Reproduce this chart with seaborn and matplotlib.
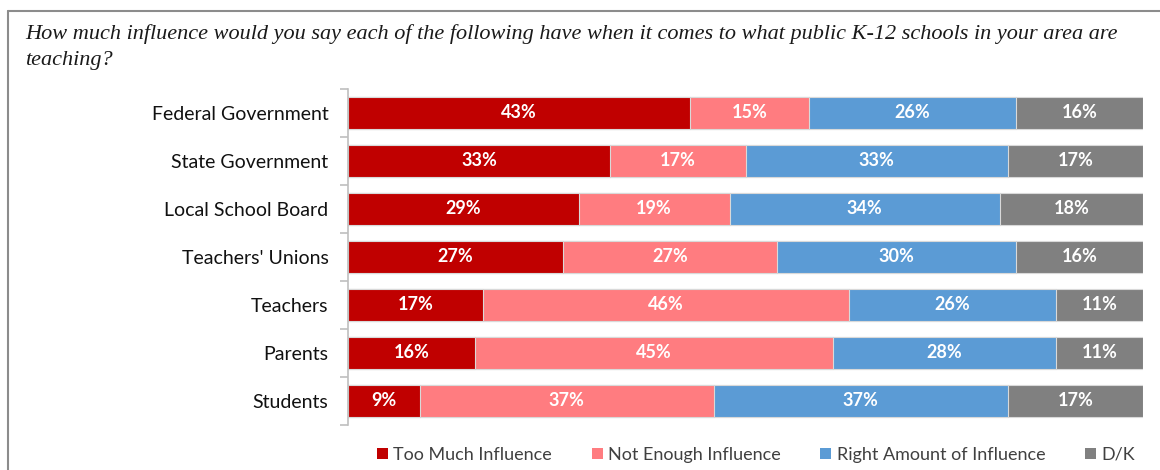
import numpy as np
import pandas as pd
import matplotlib
matplotlib.use("Agg")
import matplotlib.pyplot as plt
import seaborn as sns
from matplotlib.lines import Line2D
from matplotlib.patches import Patch

categories = ["Federal Government", "State Government", "Local School Board",
              "Teachers' Unions", "Teachers", "Parents", "Students"]
too_much = [43, 33, 29, 27, 17, 16, 9]
not_enough = [15, 17, 19, 27, 46, 45, 37]
right_amount = [26, 33, 34, 30, 26, 28, 37]
dont_know = [16, 17, 18, 16, 11, 11, 17]
series_names = ["Too Much Influence", "Not Enough Influence",
                "Right Amount of Influence", "D/K"]
colors = ["#C00000", "#FF7C80", "#5B9BD5", "#808080"]
title = ("How much influence would you say each of the following have when it comes to what public K-12 schools in your area are\n"
         "teaching?")

sns.set_theme(style="white")
plt.rcParams["font.family"] = ["Lato", "DejaVu Sans"]

series = [too_much, not_enough, right_amount, dont_know]
df = pd.DataFrame({"category": categories})
cum = np.zeros(len(categories))
starts = []
for name, vals in zip(series_names, series):
    starts.append(cum.copy())
    cum = cum + np.array(vals)
    df[name] = cum.copy()

fig = plt.figure(figsize=(11.6, 4.7), dpi=100)
ax = fig.add_axes([348/1160, 1-425/470, (1143-348)/1160, (425-89)/470])

for name, col in reversed(list(zip(series_names, colors))):
    sns.barplot(data=df, y="category", x=name, color=col, orient="h",
                width=0.66, ax=ax, edgecolor="#d9d9d9", linewidth=0.8,
                saturation=1)

for i, cat in enumerate(categories):
    for s, vals in enumerate(series):
        v = vals[i]
        xc = starts[s][i] + v / 2
        ax.text(xc, i, f"{v}%", ha="center", va="center", color="white",
                fontsize=13, fontweight="bold", family=["Lato", "DejaVu Sans"])

ax.set_xlim(0, 100)
ax.set_ylim(len(categories) - 0.5, -0.5)
ax.set_xlabel("")
ax.set_ylabel("")
ax.set_xticks([])
ax.set_yticks(np.arange(len(categories)))
ax.set_yticklabels(categories, fontsize=14, color="#111111")
ax.set_yticks(np.arange(-0.5, len(categories)), minor=True)
ax.tick_params(axis="y", which="major", left=False, length=0, pad=14)
ax.tick_params(axis="y", which="minor", left=True, length=6, color="#bfbfbf",
               width=1.2, direction="out")
for sp in ["top", "right", "bottom"]:
    ax.spines[sp].set_visible(False)
ax.spines["left"].set_color("#bfbfbf")
ax.spines["left"].set_linewidth(1.2)

handles = [Patch(facecolor=c, edgecolor="none") for c in colors]
fig.legend(handles, series_names, loc="center", bbox_to_anchor=(756/1160, 1-455/470),
           ncol=4, frameon=False, fontsize=13, handlelength=0.6, handleheight=0.6,
           handletextpad=0.3, columnspacing=2.2, labelcolor="#404040")

fig.text(25/1160, 1-47/470, title, ha="left", va="center", fontsize=16,
         style="italic", family=["Liberation Serif", "DejaVu Serif"], color="#1a1a1a",
         linespacing=1.45)

fig.add_artist(Line2D([8/1160, 1.0], [1-11/470, 1-11/470], color="#8c8c8c", lw=1.5,
                      transform=fig.transFigure))
fig.add_artist(Line2D([8/1160, 8/1160], [0.0, 1-11/470], color="#8c8c8c", lw=1.5,
                      transform=fig.transFigure))

fig.savefig("out.png", dpi=100)
